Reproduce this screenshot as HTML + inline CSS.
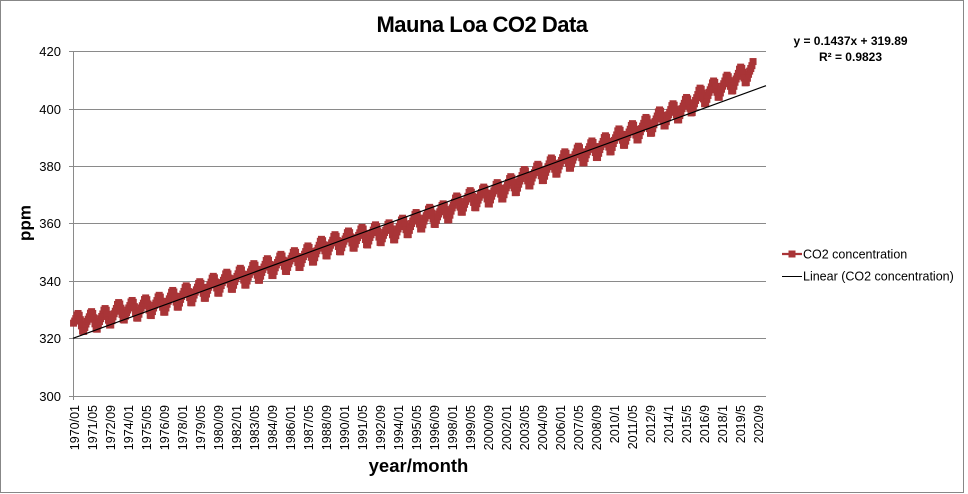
<!DOCTYPE html>
<html><head><meta charset="utf-8">
<style>
html,body{margin:0;padding:0;background:#fff;}
svg{display:block;}
text{font-family:"Liberation Sans",sans-serif;fill:#000;}
</style></head><body>
<svg id="s" width="968" height="494" viewBox="0 0 968 494" xmlns="http://www.w3.org/2000/svg">
<rect x="0" y="0" width="968" height="494" fill="#fff"/>
<rect x="0.5" y="0.5" width="963" height="492" fill="none" stroke="#878787" stroke-width="1"/>
<text x="482" y="32" font-size="22" font-weight="bold" text-anchor="middle" letter-spacing="-0.5">Mauna Loa CO2 Data</text>

<g stroke="#8a8a8a" stroke-width="1" shape-rendering="crispEdges">
<line x1="69" y1="51.5" x2="766" y2="51.5"/>
<line x1="69" y1="109.5" x2="766" y2="109.5"/>
<line x1="69" y1="166.5" x2="766" y2="166.5"/>
<line x1="69" y1="223.5" x2="766" y2="223.5"/>
<line x1="69" y1="281.5" x2="766" y2="281.5"/>
<line x1="69" y1="338.5" x2="766" y2="338.5"/>
<line x1="69" y1="396.5" x2="766" y2="396.5"/>
<line x1="73.5" y1="51" x2="73.5" y2="400"/>
</g>

<g font-size="13" text-anchor="end">
<text x="61" y="56">420</text>
<text x="61" y="114">400</text>
<text x="61" y="171">380</text>
<text x="61" y="228">360</text>
<text x="61" y="286">340</text>
<text x="61" y="343">320</text>
<text x="61" y="401">300</text>
</g>

<text transform="translate(30.5,223) rotate(-90)" font-size="17" font-weight="bold" text-anchor="middle">ppm</text>
<text x="418.5" y="472" font-size="18.5" font-weight="bold" text-anchor="middle">year/month</text>

<g id="data"></g>
<line x1="73" y1="338.3" x2="766" y2="85.7" stroke="#000" stroke-width="1.2"/>

<g font-size="12.5" text-anchor="end">
<text transform="translate(74.5,405) rotate(-90)" dy="0.36em">1970/01</text>
<text transform="translate(92.5,405) rotate(-90)" dy="0.36em">1971/05</text>
<text transform="translate(110.5,405) rotate(-90)" dy="0.36em">1972/09</text>
<text transform="translate(128.5,405) rotate(-90)" dy="0.36em">1974/01</text>
<text transform="translate(146.5,405) rotate(-90)" dy="0.36em">1975/05</text>
<text transform="translate(164.5,405) rotate(-90)" dy="0.36em">1976/09</text>
<text transform="translate(182.5,405) rotate(-90)" dy="0.36em">1978/01</text>
<text transform="translate(200.5,405) rotate(-90)" dy="0.36em">1979/05</text>
<text transform="translate(218.5,405) rotate(-90)" dy="0.36em">1980/09</text>
<text transform="translate(236.5,405) rotate(-90)" dy="0.36em">1982/01</text>
<text transform="translate(254.5,405) rotate(-90)" dy="0.36em">1983/05</text>
<text transform="translate(272.5,405) rotate(-90)" dy="0.36em">1984/09</text>
<text transform="translate(290.5,405) rotate(-90)" dy="0.36em">1986/01</text>
<text transform="translate(308.5,405) rotate(-90)" dy="0.36em">1987/05</text>
<text transform="translate(326.5,405) rotate(-90)" dy="0.36em">1988/09</text>
<text transform="translate(344.5,405) rotate(-90)" dy="0.36em">1990/01</text>
<text transform="translate(362.5,405) rotate(-90)" dy="0.36em">1991/05</text>
<text transform="translate(380.5,405) rotate(-90)" dy="0.36em">1992/09</text>
<text transform="translate(398.5,405) rotate(-90)" dy="0.36em">1994/01</text>
<text transform="translate(416.5,405) rotate(-90)" dy="0.36em">1995/05</text>
<text transform="translate(434.5,405) rotate(-90)" dy="0.36em">1996/09</text>
<text transform="translate(452.5,405) rotate(-90)" dy="0.36em">1998/01</text>
<text transform="translate(470.5,405) rotate(-90)" dy="0.36em">1999/05</text>
<text transform="translate(488.5,405) rotate(-90)" dy="0.36em">2000/09</text>
<text transform="translate(506.5,405) rotate(-90)" dy="0.36em">2002/01</text>
<text transform="translate(524.5,405) rotate(-90)" dy="0.36em">2003/05</text>
<text transform="translate(542.5,405) rotate(-90)" dy="0.36em">2004/09</text>
<text transform="translate(560.5,405) rotate(-90)" dy="0.36em">2006/01</text>
<text transform="translate(578.5,405) rotate(-90)" dy="0.36em">2007/05</text>
<text transform="translate(596.5,405) rotate(-90)" dy="0.36em">2008/09</text>
<text transform="translate(614.5,405) rotate(-90)" dy="0.36em">2010/1</text>
<text transform="translate(632.5,405) rotate(-90)" dy="0.36em">2011/05</text>
<text transform="translate(650.5,405) rotate(-90)" dy="0.36em">2012/9</text>
<text transform="translate(668.5,405) rotate(-90)" dy="0.36em">2014/1</text>
<text transform="translate(686.5,405) rotate(-90)" dy="0.36em">2015/5</text>
<text transform="translate(704.5,405) rotate(-90)" dy="0.36em">2016/9</text>
<text transform="translate(722.5,405) rotate(-90)" dy="0.36em">2018/1</text>
<text transform="translate(740.5,405) rotate(-90)" dy="0.36em">2019/5</text>
<text transform="translate(758.5,405) rotate(-90)" dy="0.36em">2020/9</text>
</g>

<g font-size="12" font-weight="bold" text-anchor="middle">
<text x="850.5" y="45">y = 0.1437x + 319.89</text>
<text x="850.5" y="61">R² = 0.9823</text>
</g>

<line x1="782" y1="254" x2="802" y2="254" stroke="#A93437" stroke-width="2.25"/>
<rect x="788.5" y="250.5" width="7" height="7" fill="#A93437"/>
<line x1="782" y1="276.5" x2="802" y2="276.5" stroke="#000" stroke-width="1"/>
<g font-size="12.5">
<text x="803" y="258.5">CO2 concentration</text>
<text x="803" y="280.5">Linear (CO2 concentration)</text>
</g>
</svg>
<script>
(function(){
var ann=[325.68,326.32,327.46,329.68,330.19,331.13,332.03,333.84,335.41,336.84,338.76,340.12,341.48,343.15,344.87,346.35,347.61,349.31,351.69,353.20,354.45,355.70,356.54,357.21,358.96,360.97,362.74,363.88,366.84,368.54,369.71,371.32,373.45,375.98,377.70,379.98,382.09,384.02,385.83,387.64,390.10,391.85,394.06,396.74,398.81,401.01,404.41,406.76,408.72,411.66,414.24,416.45];
var seas=[-0.05,0.6,1.35,2.5,2.95,2.3,0.8,-1.3,-3.1,-3.25,-2.0,-0.9];
function trend(t){var u=t-0.5;var i=Math.floor(u);if(i<0)i=0;if(i>ann.length-2)i=ann.length-2;var f=u-i;return ann[i]+(ann[i+1]-ann[i])*f;}
var w=693/615,pts=[],rects="";
for(var k=0;k<=603;k++){
 var t=(k+0.5)/12;var p=trend(t)+seas[k%12]*1.05;
 var x=73+(k+0.5)*w;var y=396-(p-300)*2.875;
 pts.push(x.toFixed(2)+","+y.toFixed(2));
 rects+='<rect x="'+(x-3.5).toFixed(2)+'" y="'+(y-3.5).toFixed(2)+'" width="7" height="7"/>';
}
var g=document.getElementById("data");
g.innerHTML='<polyline points="'+pts.join(" ")+'" fill="none" stroke="#A93437" stroke-width="2.25"/><g fill="#A93437">'+rects+'</g>';
})();
</script>
</body></html>
